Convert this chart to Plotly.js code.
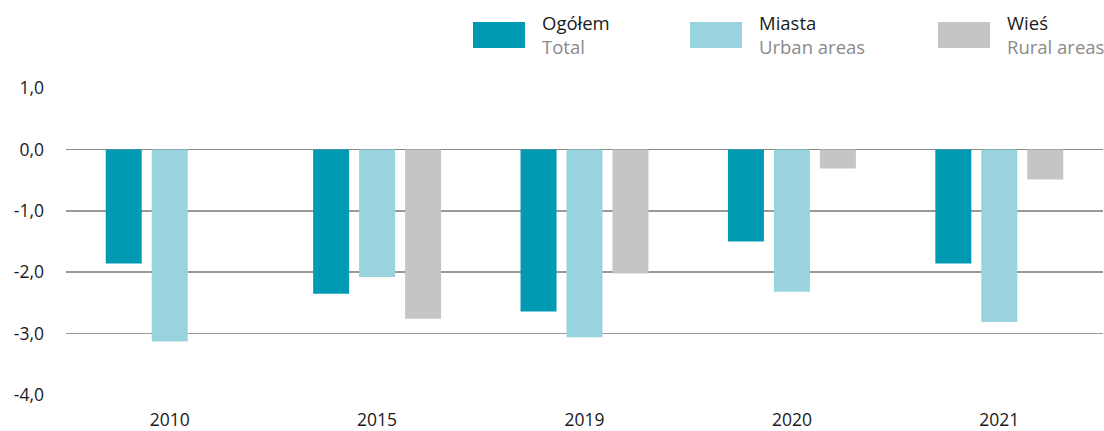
<!DOCTYPE html>
<html>
<head>
<meta charset="utf-8">
<script src="https://cdn.plot.ly/plotly-3.0.1.min.js"></script>
<style>html,body{margin:0;padding:0;background:#fff;}#chart{width:1104px;height:431px;}</style>
</head>
<body>
<div id="chart"></div>
<script>
const years = ['2010', '2015', '2019', '2020', '2021'];
const total = [-1.86, -2.35, -2.64, -1.50, -1.86];
const urban = [-3.13, -2.08, -3.06, -2.32, -2.81];
const rural = [null, -2.76, -2.02, -0.31, -0.49];
const seriesPl = ['Ogółem', 'Miasta', 'Wieś'];
const seriesEn = ['Total', 'Urban areas', 'Rural areas'];
const colors = ['#009bb3', '#99d3de', '#c5c5c5'];
const yTicks = [1, 0, -1, -2, -3, -4];
const yTickText = ['1,0', '0,0', '-1,0', '-2,0', '-3,0', '-4,0'];

const W = 1104, H = 431;
const M = {l: 66, r: 1, t: 88, b: 36};
const pw = W - M.l - M.r, ph = H - M.t - M.b;
const px = x => (x - M.l) / pw;
const py = y => (H - M.b - y) / ph;

const values = [total, urban, rural];
const traces = values.map((v, i) => ({
  type: 'bar', x: years, y: v, name: seriesPl[i],
  marker: {color: colors[i], line: {width: 0}},
  hoverinfo: 'x+y'
}));

const legendX = [473, 690, 938];
const shapes = [], annotations = [];
legendX.forEach((lx, i) => {
  shapes.push({type: 'rect', xref: 'paper', yref: 'paper',
    x0: px(lx), x1: px(lx + 52), y0: py(48), y1: py(22),
    fillcolor: colors[i], line: {width: 0}});
  annotations.push({xref: 'paper', yref: 'paper', x: px(lx + 67), y: py(23),
    xanchor: 'left', yanchor: 'middle', showarrow: false,
    text: seriesPl[i], font: {family: 'Open Sans, sans-serif', size: 18.5, color: '#1a1a1a'}});
  annotations.push({xref: 'paper', yref: 'paper', x: px(lx + 67), y: py(47),
    xanchor: 'left', yanchor: 'middle', showarrow: false,
    text: seriesEn[i], font: {family: 'Open Sans, sans-serif', size: 18.5, color: '#8a8a8a'}});
});

const layout = {
  width: W, height: H,
  margin: M,
  paper_bgcolor: '#fff', plot_bgcolor: '#fff',
  showlegend: false,
  barmode: 'group', bargap: 0.335, bargroupgap: 0.217,
  font: {family: 'Open Sans, sans-serif', size: 17.5, color: '#1a1a1a'},
  xaxis: {type: 'category', showgrid: false, zeroline: false, showline: false,
    ticks: '', ticklabelstandoff: 12, tickfont: {size: 17.5, color: '#1a1a1a'}},
  yaxis: {range: [-4, 1], tickvals: yTicks, ticktext: yTickText,
    showgrid: true, gridcolor: '#999', gridwidth: 1.5,
    zeroline: true, zerolinecolor: '#888', zerolinewidth: 1.5,
    showline: false, ticks: '', ticklabelstandoff: 21,
    tickfont: {size: 17.5, color: '#1a1a1a'}, fixedrange: true},
  shapes: shapes,
  annotations: annotations
};

Plotly.newPlot('chart', traces, layout, {displayModeBar: false, staticPlot: true});
</script>
</body>
</html>
